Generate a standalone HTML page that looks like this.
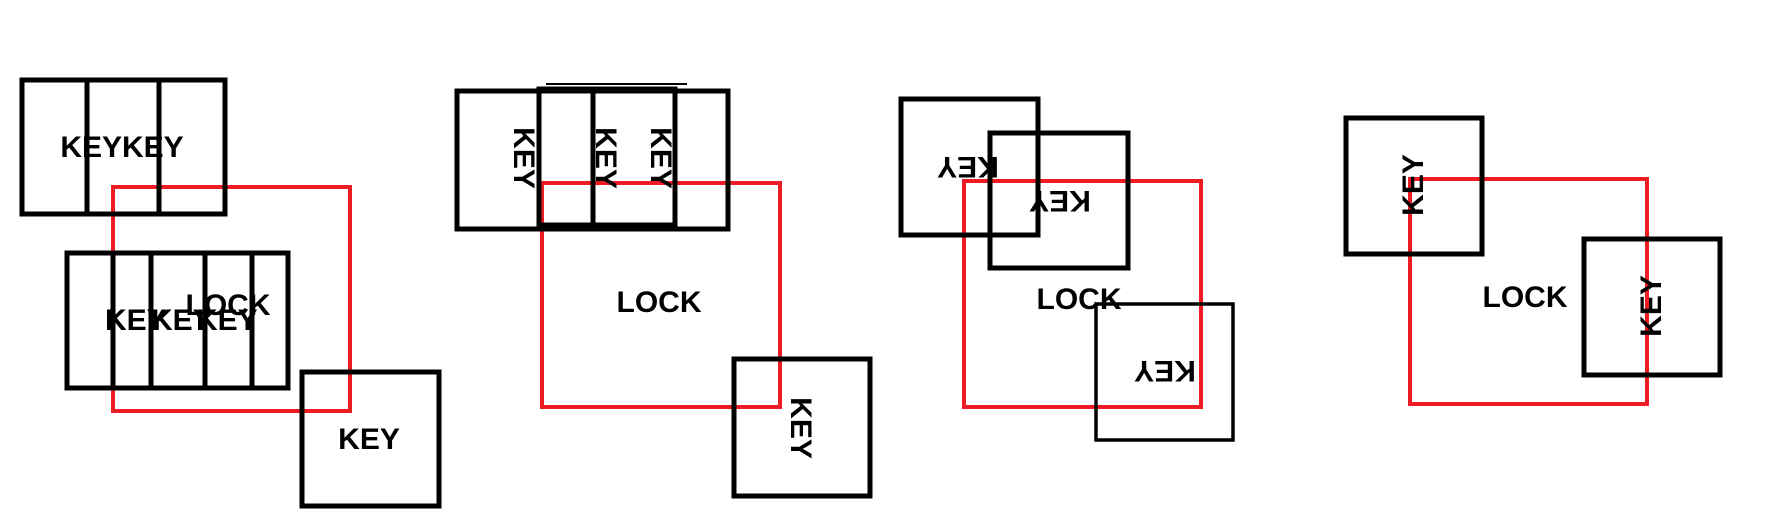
<!DOCTYPE html>
<html><head><meta charset="utf-8"><style>
html,body{margin:0;padding:0;background:#fff;}
svg{display:block;}
text{font-family:"Liberation Sans",sans-serif;font-weight:bold;font-size:30px;fill:#000;}
</style></head><body>
<svg width="1787" height="525" viewBox="0 0 1787 525" xmlns="http://www.w3.org/2000/svg">
<g fill="none" stroke-width="5">
<!-- panel 1 -->
<rect x="113" y="187" width="237" height="224" stroke="#ed1c24" stroke-width="4"/>
<rect x="22" y="80" width="203" height="134" stroke="#000"/>
<line x1="87" y1="80" x2="87" y2="214" stroke="#000"/>
<line x1="159" y1="80" x2="159" y2="214" stroke="#000"/>
<rect x="67" y="253" width="221" height="135" stroke="#000"/>
<line x1="113" y1="253" x2="113" y2="388" stroke="#000"/>
<line x1="151" y1="253" x2="151" y2="388" stroke="#000"/>
<line x1="205" y1="253" x2="205" y2="388" stroke="#000"/>
<line x1="252" y1="253" x2="252" y2="388" stroke="#000"/>
<rect x="302" y="372" width="137" height="134" stroke="#000"/>
<!-- panel 2 -->
<rect x="542" y="183" width="238" height="224" stroke="#ed1c24" stroke-width="4"/>
<rect x="457" y="91" width="271" height="138" stroke="#000"/>
<rect x="539" y="89" width="136" height="136" stroke="#000"/>
<line x1="546" y1="84" x2="687" y2="84" stroke="#000" stroke-width="2"/>
<line x1="593" y1="89" x2="593" y2="225" stroke="#000"/>
<rect x="734" y="359" width="136" height="137" stroke="#000"/>
<!-- panel 3 -->
<rect x="964" y="181" width="237" height="226" stroke="#ed1c24" stroke-width="4"/>
<rect x="901" y="99" width="137" height="136" stroke="#000"/>
<rect x="990" y="133" width="138" height="135" stroke="#000"/>
<rect x="1096" y="304" width="137" height="136" stroke="#000" stroke-width="3.5"/>
<!-- panel 4 -->
<rect x="1410" y="179" width="237" height="225" stroke="#ed1c24" stroke-width="4"/>
<rect x="1346" y="118" width="136" height="136" stroke="#000"/>
<rect x="1584" y="239" width="136" height="136" stroke="#000"/>
</g>
<!-- texts panel 1 -->
<text x="122" y="157" text-anchor="middle">KEYKEY</text>
<text x="228" y="315" text-anchor="middle">LOCK</text>
<text x="105" y="330">KEY</text>
<text x="151" y="330">KEY</text>
<text x="196" y="330">KEY</text>
<text x="369" y="449" text-anchor="middle">KEY</text>
<!-- panel 2 -->
<text x="659" y="312" text-anchor="middle">LOCK</text>
<text transform="translate(525,158) rotate(90)" text-anchor="middle" y="11">KEY</text>
<text transform="translate(607,158) rotate(90)" text-anchor="middle" y="11">KEY</text>
<text transform="translate(662,158) rotate(90)" text-anchor="middle" y="11">KEY</text>
<text transform="translate(802,428) rotate(90)" text-anchor="middle" y="11">KEY</text>
<!-- panel 3 -->
<text x="1079" y="309" text-anchor="middle">LOCK</text>
<text transform="translate(968,168) rotate(180)" text-anchor="middle" y="11">KEY</text>
<text transform="translate(1060,202) rotate(180)" text-anchor="middle" y="11">KEY</text>
<text transform="translate(1165,372) rotate(180)" text-anchor="middle" y="11">KEY</text>
<!-- panel 4 -->
<text x="1525" y="307" text-anchor="middle">LOCK</text>
<text transform="translate(1412,185) rotate(-90)" text-anchor="middle" y="11">KEY</text>
<text transform="translate(1650,306) rotate(-90)" text-anchor="middle" y="11">KEY</text>
</svg>
</body></html>
